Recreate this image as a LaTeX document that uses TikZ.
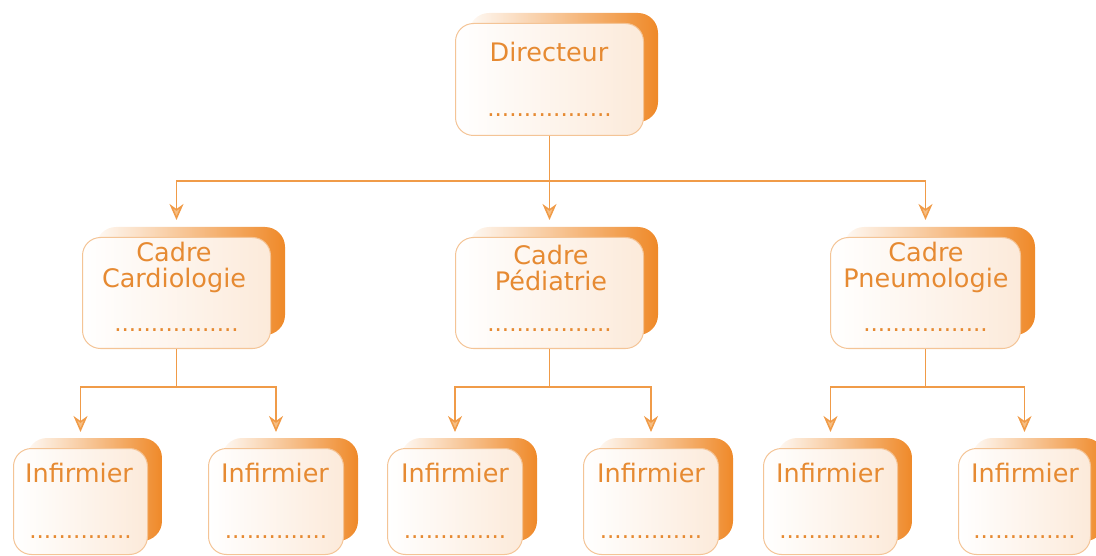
\documentclass[tikz,border=0pt]{standalone}
\usepackage{fontspec}
\setmainfont{DejaVu Sans}
\usetikzlibrary{arrows.meta,backgrounds}
\definecolor{textc}{RGB}{230,138,50}
\definecolor{shadc}{RGB}{239,137,40}
\definecolor{bordc}{RGB}{244,196,150}
\definecolor{fillc}{RGB}{252,234,218}
\definecolor{linkc}{RGB}{240,155,72}
\definecolor{tipc}{RGB}{247,190,130}
\tikzset{
  frontbox/.style={draw=bordc, line width=1pt, rounded corners=18pt,
    left color=white, right color=fillc, anchor=north west, inner sep=0pt},
  shadowbox/.style={rounded corners=20pt, left color=shadc!5, middle color=shadc!75, right color=shadc},
  lbl/.style={text=textc, font=\fontsize{25.5}{26}\selectfont, inner sep=0pt, align=center},
  dotline/.style={text=textc, font=\fontsize{23}{24}\selectfont, inner sep=0pt, anchor=base},
  link/.style={draw=linkc, line width=1.5pt,
    -{Stealth[length=16pt,width=14pt,inset=5pt,fill=tipc]}},
}
\newcommand\obox[6]{% name, x, y, w, h, dots
  \node[frontbox, minimum width=#4pt, minimum height=#5pt] (#1) at (#2,#3) {};
  \begin{pgfonlayer}{background}
    \path[shadowbox] ([xshift=14pt,yshift=10pt]#1.north west) rectangle ([xshift=14pt,yshift=14pt]#1.south east);
  \end{pgfonlayer}
  \node[dotline] (#1-d) at ([yshift=-#6pt]#1.north) {\ifdim #4pt>150pt .................\else ..............\fi};
}
\begin{document}
\begin{tikzpicture}[x=1pt,y=-1pt]
\useasboundingbox (0,0) rectangle (1096,556);
% top
\obox{dir}{455}{23}{188}{112}{94}
\node[lbl, anchor=base] (dirt) at (549,62) {Directeur};
% middle
\obox{card}{82}{237}{188}{111}{94}
\obox{ped}{455}{237}{188}{111}{94}
\obox{pneu}{830}{237}{190}{111}{94}
\node[lbl] (cardt) at (174,267.5) {Cadre\\Cardiologie};
\node[lbl] (pedt) at (551,267.5) {Cadre\\Pédiatrie};
\node[lbl] (pneut) at (926,267.5) {Cadre\\Pneumologie};
% bottom
\obox{i1}{13}{448}{134}{106}{90}
\obox{i2}{208}{448}{135}{106}{90}
\obox{i3}{387}{448}{135}{106}{90}
\obox{i4}{583}{448}{135}{106}{90}
\obox{i5}{763}{448}{134}{106}{90}
\obox{i6}{958}{448}{132}{106}{90}
\foreach \n/\x in {i1/79,i2/275,i3/455,i4/651,i5/830,i6/1025}{
  \node[lbl, anchor=base] (\n t) at (\x,482) {Infirmier};
}
% connectors
\draw[link, shorten >=17pt] (dir.south) -- ++(0,45) -| (card.north);
\draw[link, shorten >=17pt] (dir.south) -- ++(0,45) -| (ped.north);
\draw[link, shorten >=17pt] (dir.south) -- ++(0,45) -| (pneu.north);
\draw[link, shorten >=16pt] (card.south) -- ++(0,38) -| (i1.north);
\draw[link, shorten >=16pt] (card.south) -- ++(0,38) -| (i2.north);
\draw[link, shorten >=16pt] (ped.south) -- ++(0,38) -| (i3.north);
\draw[link, shorten >=16pt] (ped.south) -- ++(0,38) -| (i4.north);
\draw[link, shorten >=16pt] (pneu.south) -- ++(0,38) -| (i5.north);
\draw[link, shorten >=16pt] (pneu.south) -- ++(0,38) -| (i6.north);
\end{tikzpicture}
\end{document}
